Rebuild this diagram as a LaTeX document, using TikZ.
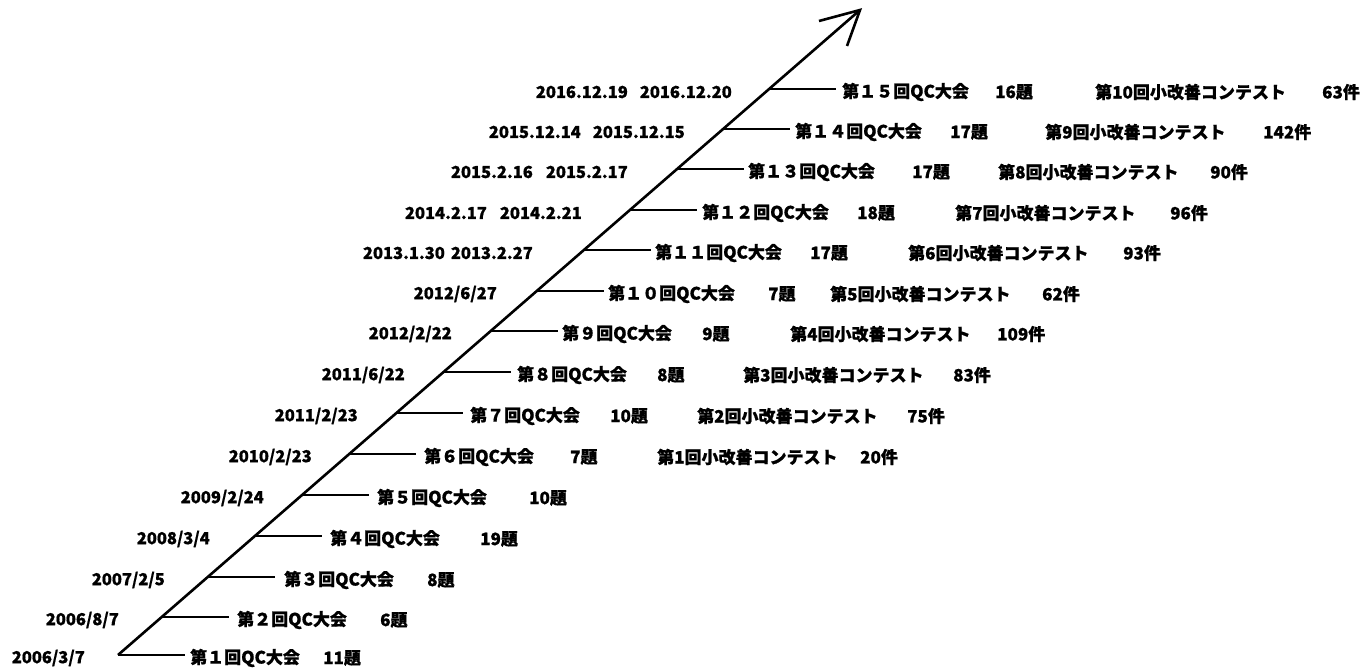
\documentclass[tikz,border=0pt]{standalone}
\usepackage{fontspec}
\setmainfont{Noto Sans CJK JP}[BoldFeatures={FakeBold=0.8}]
\begin{document}
\begin{tikzpicture}[x=1pt,y=-1pt,
  lbl/.style={font=\bfseries\fontsize{17}{17}\selectfont, inner sep=0pt, anchor=west},
  dlbl/.style={font=\bfseries\fontsize{16.5}{17}\selectfont, inner sep=0pt, anchor=east},
  axis/.style={line width=2.6pt},
  tick/.style={line width=2.6pt}]
\useasboundingbox (0,0) rectangle (1365,668);
% main axis
\coordinate (base) at (118,655);
\coordinate (tip) at (860,10);
\coordinate (armA) at (819,21);
\coordinate (armB) at (847,46);
\draw[axis] (base) -- (tip);
\draw[axis] (armA) -- (tip) -- (armB);
% tick start points on the axis and tick ends
\foreach \r/\y/\x in {1/655/118, 2/617/161.7, 3/577/207.7, 4/536/254.9, 5/495/302.1,
  6/454/349.2, 7/413/396.4, 8/372/443.6, 9/331/490.7, 10/291/536.7, 11/250/583.9,
  12/210/629.9, 13/169/677.1, 14/129/723.1, 15/89/769.1}{
  \coordinate (s\r) at (\x,\y);
  \coordinate (e\r) at (\x+67,\y);
  \draw[tick] (s\r) -- (e\r);
}
% dates
\node[dlbl] (d1) at (85,658) {2006/3/7};
\node[dlbl] (d2) at (119,620) {2006/8/7};
\node[dlbl] (d3) at (165,580) {2007/2/5};
\node[dlbl] (d4) at (210,539) {2008/3/4};
\node[dlbl] (d5) at (264,498) {2009/2/24};
\node[dlbl] (d6) at (312,457) {2010/2/23};
\node[dlbl] (d7) at (358,416) {2011/2/23};
\node[dlbl] (d8) at (405,375) {2011/6/22};
\node[dlbl] (d9) at (452,334) {2012/2/22};
\node[dlbl] (d10) at (497,294) {2012/6/27};
\node[dlbl] (d11) at (533,253) {2013.1.30\hspace{6pt}2013.2.27};
\node[dlbl] (d12) at (582,213) {2014.2.17\hspace{13pt}2014.2.21};
\node[dlbl] (d13) at (628,172) {2015.2.16\hspace{13pt}2015.2.17};
\node[dlbl] (d14) at (685,132) {2015.12.14\hspace{12pt}2015.12.15};
\node[dlbl] (d15) at (732,92) {2016.12.19\hspace{12pt}2016.12.20};
% QC conference labels
\node[lbl] (q1) at (190,658) {第１回QC大会};
\node[lbl] (q2) at (237,620) {第２回QC大会};
\node[lbl] (q3) at (284,580) {第３回QC大会};
\node[lbl] (q4) at (330,539) {第４回QC大会};
\node[lbl] (q5) at (377,498) {第５回QC大会};
\node[lbl] (q6) at (424,457) {第６回QC大会};
\node[lbl] (q7) at (470,416) {第７回QC大会};
\node[lbl] (q8) at (517,375) {第８回QC大会};
\node[lbl] (q9) at (562,334) {第９回QC大会};
\node[lbl] (q10) at (608,294) {第１０回QC大会};
\node[lbl] (q11) at (655,253) {第１１回QC大会};
\node[lbl] (q12) at (702,213) {第１２回QC大会};
\node[lbl] (q13) at (748,172) {第１３回QC大会};
\node[lbl] (q14) at (795,132) {第１４回QC大会};
\node[lbl] (q15) at (842,92) {第１５回QC大会};
% number of themes
\node[lbl] (n1) at (323,658) {11題};
\node[lbl] (n2) at (380,620) {6題};
\node[lbl] (n3) at (427,580) {8題};
\node[lbl] (n4) at (480,539) {19題};
\node[lbl] (n5) at (529,498) {10題};
\node[lbl] (n6) at (570,457) {7題};
\node[lbl] (n7) at (610,416) {10題};
\node[lbl] (n8) at (657,375) {8題};
\node[lbl] (n9) at (702,334) {9題};
\node[lbl] (n10) at (768,294) {7題};
\node[lbl] (n11) at (810,253) {17題};
\node[lbl] (n12) at (857,213) {18題};
\node[lbl] (n13) at (912,172) {17題};
\node[lbl] (n14) at (950,132) {17題};
\node[lbl] (n15) at (995,92) {16題};
% small improvement contests
\node[lbl] (c6) at (657,457) {第1回小改善コンテスト};
\node[lbl] (c7) at (697,416) {第2回小改善コンテスト};
\node[lbl] (c8) at (743,375) {第3回小改善コンテスト};
\node[lbl] (c9) at (790,334) {第4回小改善コンテスト};
\node[lbl] (c10) at (830,294) {第5回小改善コンテスト};
\node[lbl] (c11) at (908,253) {第6回小改善コンテスト};
\node[lbl] (c12) at (955,213) {第7回小改善コンテスト};
\node[lbl] (c13) at (998,172) {第8回小改善コンテスト};
\node[lbl] (c14) at (1045,132) {第9回小改善コンテスト};
\node[lbl] (c15) at (1095,92) {第10回小改善コンテスト};
% number of entries
\node[lbl] (k6) at (860,457) {20件};
\node[lbl] (k7) at (907,416) {75件};
\node[lbl] (k8) at (953,375) {83件};
\node[lbl] (k9) at (997,334) {109件};
\node[lbl] (k10) at (1042,294) {62件};
\node[lbl] (k11) at (1123,253) {93件};
\node[lbl] (k12) at (1170,213) {96件};
\node[lbl] (k13) at (1210,172) {90件};
\node[lbl] (k14) at (1263,132) {142件};
\node[lbl] (k15) at (1322,92) {63件};
\end{tikzpicture}
\end{document}
